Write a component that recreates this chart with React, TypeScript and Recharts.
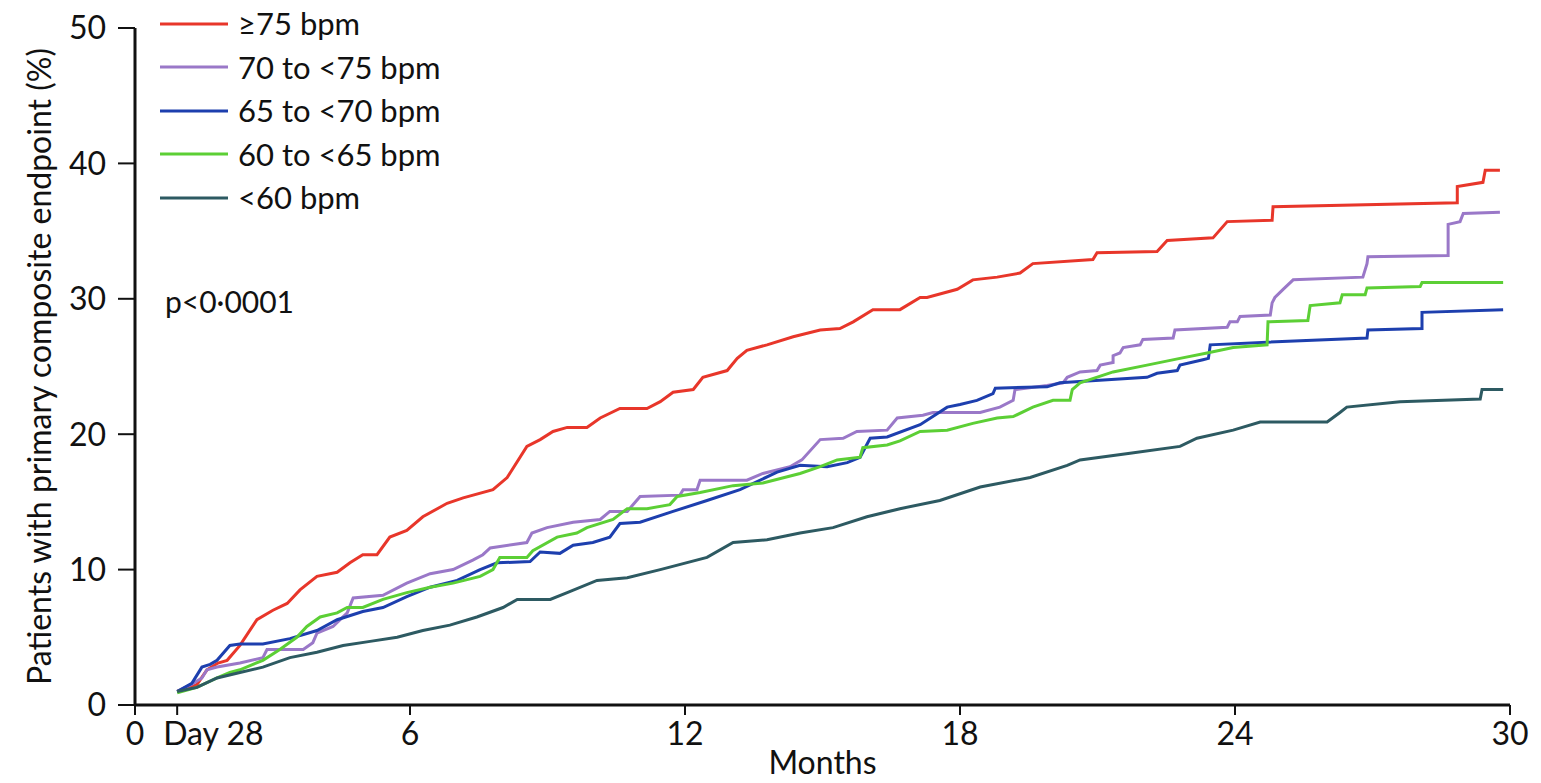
import { Line, LineChart, XAxis, YAxis } from 'recharts';

const FONT = 'Lato, "Open Sans", sans-serif';

const seriesNames = ['≥75 bpm', '70 to <75 bpm', '65 to <70 bpm', '60 to <65 bpm', '<60 bpm'];
const seriesColors = ['#e8362a', '#9a78c8', '#1d3fae', '#5ccf35', '#2d5a62'];

const xTicks = [0, 0.92, 6, 12, 18, 24, 30];
const yTicks = [0, 10, 20, 30, 40, 50];

// [month, % with primary composite endpoint]
const hr75: [number, number][] = [
  [0.92, 1.0], [1.35, 1.5], [1.57, 2.6], [1.81, 3.1], [2.01, 3.3], [2.29, 4.4], [2.66, 6.3],
  [3.01, 7.0], [3.32, 7.5], [3.6, 8.5], [3.97, 9.5], [4.41, 9.8], [4.69, 10.5], [4.97, 11.1],
  [5.28, 11.1], [5.56, 12.4], [5.93, 12.9], [6.28, 13.9], [6.81, 14.9], [7.16, 15.3], [7.81, 15.9],
  [8.12, 16.8], [8.55, 19.1], [8.84, 19.6], [9.12, 20.2], [9.43, 20.5], [9.86, 20.5], [10.15, 21.2],
  [10.58, 21.9], [11.17, 21.9], [11.46, 22.4], [11.74, 23.1], [12.18, 23.3], [12.39, 24.2],
  [12.92, 24.7], [13.14, 25.6], [13.35, 26.2], [13.79, 26.6], [14.36, 27.2], [14.95, 27.7],
  [15.38, 27.8], [15.67, 28.3], [16.1, 29.2], [16.69, 29.2], [17.13, 30.1], [17.28, 30.1],
  [17.94, 30.7], [18.28, 31.4], [18.81, 31.6], [19.31, 31.9], [19.59, 32.6], [20.9, 32.9],
  [20.99, 33.4], [22.3, 33.5], [22.52, 34.3], [23.52, 34.5], [23.83, 35.7], [24.81, 35.8],
  [24.83, 36.8], [28.85, 37.1], [28.85, 38.3], [29.41, 38.6], [29.46, 39.5], [29.78, 39.5],
];

const hr70: [number, number][] = [
  [0.92, 1.0], [1.27, 1.6], [1.46, 2.0], [1.57, 2.6], [1.79, 2.8], [2.29, 3.1], [2.79, 3.5],
  [2.88, 4.1], [3.67, 4.1], [3.88, 4.6], [3.97, 5.3], [4.32, 5.8], [4.63, 6.8], [4.76, 7.9],
  [5.41, 8.1], [5.93, 9.0], [6.44, 9.7], [6.94, 10.0], [7.37, 10.7], [7.59, 11.1], [7.75, 11.6],
  [8.55, 12.0], [8.66, 12.7], [8.99, 13.1], [9.56, 13.5], [10.15, 13.7], [10.36, 14.3],
  [10.74, 14.3], [11.02, 15.4], [11.89, 15.5], [11.96, 15.9], [12.26, 15.9], [12.33, 16.6],
  [13.35, 16.6], [13.7, 17.1], [14.29, 17.6], [14.55, 18.1], [14.95, 19.6], [15.45, 19.7],
  [15.75, 20.2], [16.41, 20.3], [16.63, 21.2], [17.19, 21.4], [17.41, 21.6], [18.44, 21.6],
  [18.87, 22.0], [19.16, 22.5], [19.2, 23.3], [19.9, 23.6], [20.25, 23.8], [20.34, 24.2],
  [20.62, 24.6], [20.99, 24.7], [21.06, 25.1], [21.34, 25.3], [21.34, 25.8], [21.49, 26.0],
  [21.56, 26.4], [21.93, 26.6], [21.99, 27.0], [22.65, 27.1], [22.69, 27.7], [23.83, 27.9],
  [23.89, 28.3], [24.05, 28.3], [24.11, 28.7], [24.77, 28.8], [24.81, 29.7], [24.87, 30.1],
  [25.05, 30.7], [25.27, 31.4], [26.79, 31.6], [26.88, 32.6], [26.9, 33.1], [28.65, 33.2],
  [28.65, 35.5], [28.91, 35.7], [28.98, 36.3], [29.78, 36.4],
];

const hr65: [number, number][] = [
  [0.92, 1.0], [1.24, 1.6], [1.46, 2.8], [1.64, 3.0], [1.79, 3.3], [2.07, 4.4], [2.29, 4.5],
  [2.79, 4.5], [3.38, 4.9], [3.97, 5.5], [4.41, 6.3], [4.97, 6.9], [5.41, 7.2], [5.93, 8.0],
  [6.44, 8.7], [7.03, 9.2], [7.53, 10.0], [7.9, 10.5], [8.62, 10.6], [8.84, 11.3], [9.27, 11.2],
  [9.56, 11.8], [9.99, 12.0], [10.36, 12.4], [10.58, 13.4], [11.02, 13.5], [11.74, 14.3],
  [12.48, 15.1], [13.2, 15.9], [14.01, 17.2], [14.51, 17.7], [15.1, 17.6], [15.54, 17.9],
  [15.82, 18.3], [16.04, 19.7], [16.41, 19.8], [17.13, 20.7], [17.72, 22.0], [18.0, 22.2],
  [18.37, 22.5], [18.72, 23.0], [18.77, 23.4], [19.9, 23.5], [20.18, 23.8], [22.08, 24.2],
  [22.3, 24.5], [22.74, 24.7], [22.8, 25.1], [23.3, 25.5], [23.42, 25.6], [23.46, 26.6],
  [24.7, 26.8], [26.88, 27.1], [26.9, 27.7], [28.08, 27.8], [28.08, 29.0], [29.85, 29.2],
];

const hr60: [number, number][] = [
  [0.92, 0.9], [1.35, 1.3], [1.79, 2.0], [2.07, 2.4], [2.29, 2.6], [2.79, 3.3], [3.16, 4.1],
  [3.53, 5.0], [3.75, 5.8], [4.04, 6.5], [4.41, 6.8], [4.63, 7.2], [4.97, 7.2], [5.41, 7.8],
  [5.93, 8.3], [6.44, 8.7], [6.94, 9.0], [7.53, 9.5], [7.81, 10.0], [7.96, 10.9], [8.55, 10.9],
  [8.68, 11.4], [9.21, 12.4], [9.64, 12.7], [9.86, 13.1], [10.43, 13.7], [10.74, 14.5],
  [11.17, 14.5], [11.67, 14.8], [11.83, 15.4], [12.33, 15.7], [13.05, 16.2], [13.7, 16.4],
  [14.51, 17.1], [14.95, 17.6], [15.32, 18.1], [15.82, 18.3], [15.88, 19.0], [16.41, 19.2],
  [16.69, 19.5], [17.13, 20.2], [17.72, 20.3], [18.28, 20.8], [18.81, 21.2], [19.16, 21.3],
  [19.59, 22.0], [20.03, 22.5], [20.4, 22.5], [20.45, 23.3], [20.62, 23.8], [21.34, 24.6],
  [22.08, 25.1], [22.8, 25.6], [23.39, 26.0], [23.96, 26.4], [24.7, 26.6], [24.72, 28.3],
  [25.59, 28.4], [25.64, 29.5], [26.29, 29.7], [26.34, 30.3], [26.84, 30.3], [26.88, 30.8],
  [28.04, 30.9], [28.08, 31.2], [29.85, 31.2],
];

const hrLow: [number, number][] = [
  [0.92, 1.0], [1.35, 1.3], [1.79, 2.0], [2.29, 2.4], [2.79, 2.8], [3.38, 3.5], [3.97, 3.9],
  [4.54, 4.4], [5.13, 4.7], [5.72, 5.0], [6.28, 5.5], [6.87, 5.9], [7.46, 6.5], [8.03, 7.2],
  [8.34, 7.8], [9.06, 7.8], [9.43, 8.3], [10.08, 9.2], [10.74, 9.4], [11.46, 10.0], [12.48, 10.9],
  [13.05, 12.0], [13.79, 12.2], [14.51, 12.7], [15.23, 13.1], [15.97, 13.9], [16.69, 14.5],
  [17.56, 15.1], [18.44, 16.1], [19.53, 16.8], [20.34, 17.7], [20.62, 18.1], [21.71, 18.6],
  [22.8, 19.1], [23.17, 19.7], [23.96, 20.3], [24.55, 20.9], [26.01, 20.9], [26.29, 21.6],
  [26.44, 22.0], [27.6, 22.4], [29.35, 22.6], [29.39, 23.3], [29.85, 23.3],
];

const seriesPoints = [hr75, hr70, hr65, hr60, hrLow];

const toRows = (pts: [number, number][]) => pts.map(([m, v]) => ({ m, v }));

function MonthTick({ x, y, payload }: any) {
  const v = payload.value;
  const isDay28 = v === 0.92;
  return (
    <text
      x={isDay28 ? x - 14 : x}
      y={y}
      dy={28}
      textAnchor={isDay28 ? 'start' : 'middle'}
      fontFamily={FONT}
      fontSize={32}
      fill="#111">
      {isDay28 ? 'Day 28' : String(v)}
    </text>
  );
}

function KeyBox() {
  return (
    <div
      style={{
        position: 'absolute',
        left: 152,
        top: -6,
        fontFamily: FONT,
        fontSize: 31,
        color: '#111',
      }}>
      {seriesNames.map((name, i) => (
        <div
          key={name}
          style={{ display: 'flex', alignItems: 'center', height: 43.5 }}>
          <svg width={70} height={6}>
            <line x1={0} y1={3} x2={68} y2={3} stroke={seriesColors[i]} strokeWidth={3} />
          </svg>
          <span style={{ marginLeft: 8, lineHeight: 1 }}>{name}</span>
        </div>
      ))}
    </div>
  );
}

export default function App() {
  return (
    <div style={{ position: 'relative', width: 1533, height: 775, background: '#fff' }}>
      <LineChart
        width={1533}
        height={775}
        margin={{ top: 20, right: 31, left: 0, bottom: 0 }}>
        <XAxis
          dataKey="m"
          type="number"
          domain={[0, 30]}
          ticks={xTicks}
          interval={0}
          tick={<MonthTick />}
          tickSize={10}
          height={78}
          axisLine={{ stroke: '#111', strokeWidth: 3 }}
          tickLine={{ stroke: '#111', strokeWidth: 2 }}
          label={{ value: 'Months', position: 'insideBottom', offset: 9, fontFamily: FONT, fontSize: 32, fill: '#111' }}
        />
        <YAxis
          type="number"
          domain={[0, 50]}
          ticks={yTicks}
          interval={0}
          width={127}
          tickSize={17}
          tickMargin={12}
          tick={{ fontFamily: FONT, fontSize: 32, fill: '#111' }}
          axisLine={{ stroke: '#111', strokeWidth: 3 }}
          tickLine={{ stroke: '#111', strokeWidth: 2 }}
          label={{
            value: 'Patients with primary composite endpoint (%)',
            angle: -90,
            position: 'insideLeft',
            offset: 32,
            style: { textAnchor: 'middle', fontFamily: FONT, fontSize: 32, fill: '#111' },
          }}
        />
        {seriesPoints.map((pts, i) => (
          <Line
            key={seriesNames[i]}
            data={toRows(pts)}
            dataKey="v"
            name={seriesNames[i]}
            type="linear"
            stroke={seriesColors[i]}
            strokeWidth={3}
            dot={false}
            activeDot={false}
            isAnimationActive={false}
          />
        ))}
      </LineChart>
      <KeyBox />
      <div
        style={{
          position: 'absolute',
          left: 157,
          top: 275,
          fontFamily: FONT,
          fontSize: 30,
          color: '#111',
        }}>
        p&lt;0·0001
      </div>
    </div>
  );
}
